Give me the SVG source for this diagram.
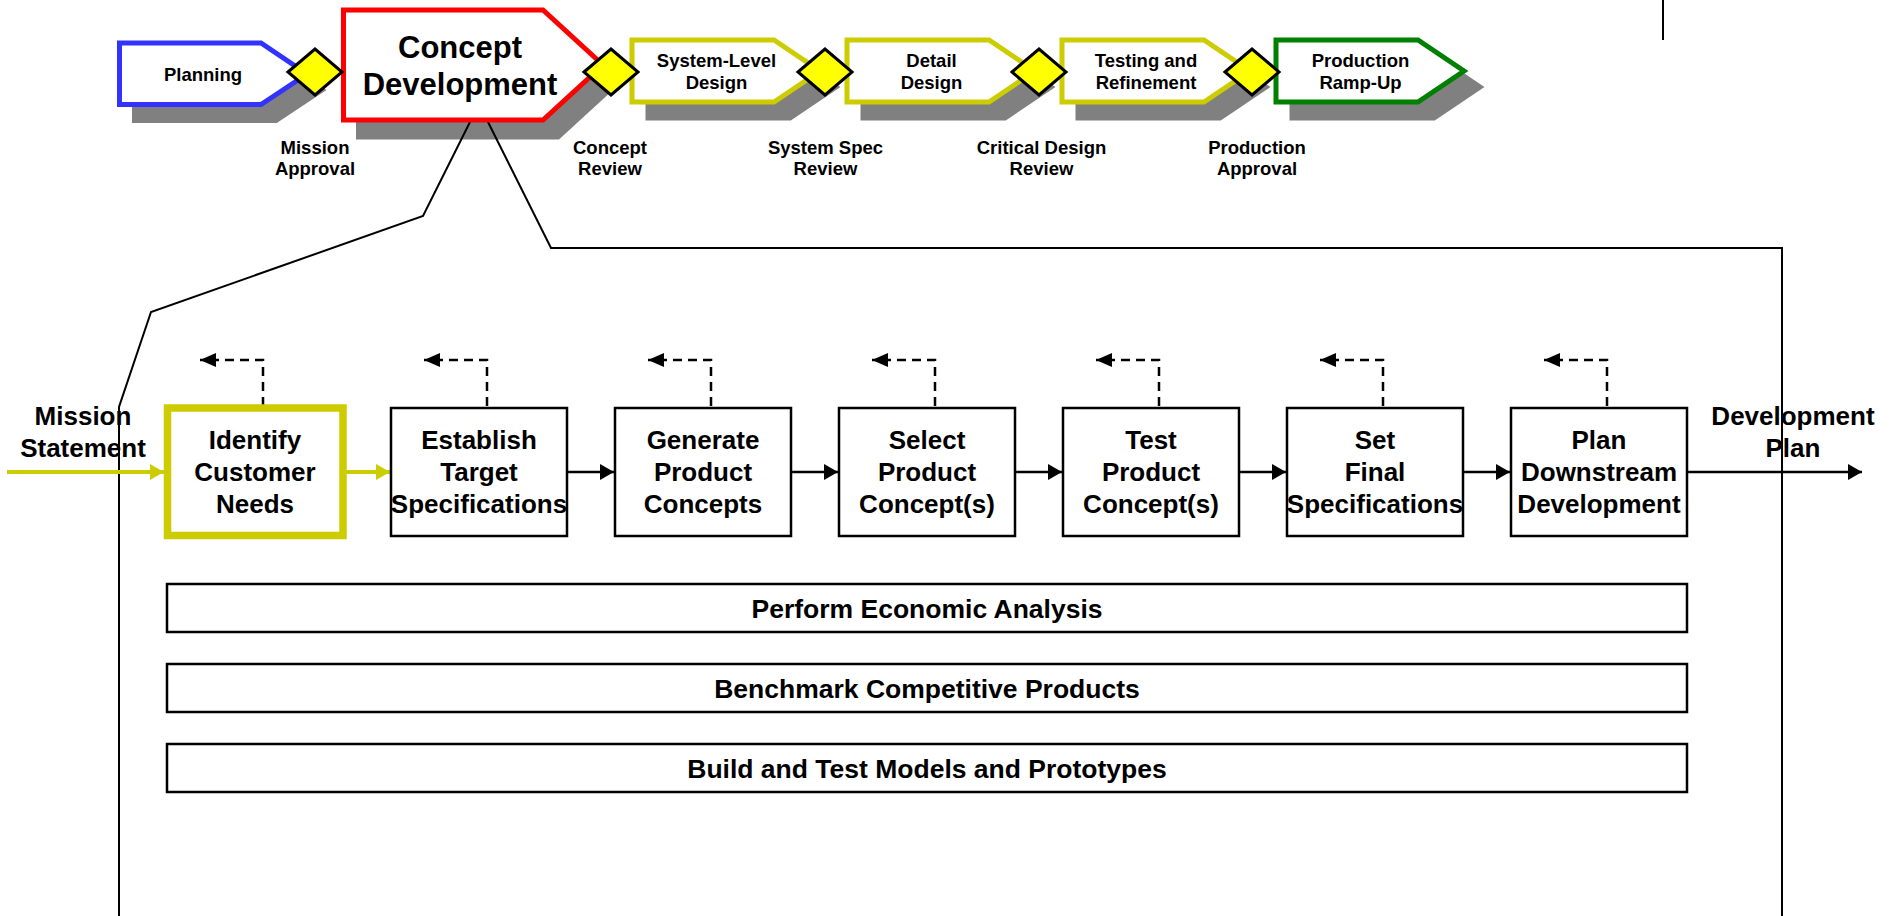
<svg xmlns="http://www.w3.org/2000/svg" width="1895" height="916" viewBox="0 0 1895 916">
<defs>
<style>
text{font-family:"Liberation Sans",Arial,Helvetica,sans-serif;font-weight:bold;fill:#000;text-anchor:middle}
.shadow{fill:#808080;stroke:#808080;stroke-width:5}
.phase{fill:#fff;stroke-width:5;stroke-linejoin:miter}
.gate{fill:#ffff00;stroke:#000;stroke-width:3}
.t18{font-size:18.5px}
.t26{font-size:26px}
.t27{font-size:26.5px}
.box{fill:#fff;stroke:#000;stroke-width:2.5}
.bar{fill:#fff;stroke:#000;stroke-width:2.5}
.line{fill:none;stroke:#000;stroke-width:2}
.flow{fill:none;stroke:#000;stroke-width:2.5}
.yflow{fill:none;stroke:#cccc00;stroke-width:4}
.dash{fill:none;stroke:#000;stroke-width:2.5;stroke-dasharray:9,6}
</style>
<marker id="ah" markerUnits="userSpaceOnUse" markerWidth="16" markerHeight="18" refX="14" refY="8" orient="auto">
<path d="M0,0 L14,8 L0,16 Z" fill="#000"/>
</marker>
<marker id="yah" markerUnits="userSpaceOnUse" markerWidth="16" markerHeight="18" refX="14" refY="8" orient="auto">
<path d="M0,0 L14,8 L0,16 Z" fill="#cccc00"/>
</marker>
<marker id="dah" markerUnits="userSpaceOnUse" markerWidth="17" markerHeight="15" refX="16" refY="7" orient="auto">
<path d="M0,0 L16,7 L0,14 Z" fill="#000"/>
</marker>
</defs>
<rect width="1895" height="916" fill="#fff"/>

<g id="shadows">
<polygon class="shadow" transform="translate(15,16)" points="119.5,43 261,43 307,74 261,104.5 119.5,104.5"/>
<polygon class="shadow" transform="translate(15,17)" points="343.5,10 543,10 603,65 543,120 343.5,120"/>
<polygon class="shadow" transform="translate(16,16)" points="632,40 774,40 820,71 774,102 632,102"/>
<polygon class="shadow" transform="translate(16,16)" points="847,40 989,40 1035,71 989,102 847,102"/>
<polygon class="shadow" transform="translate(16,16)" points="1062,40 1204,40 1250,71 1204,102 1062,102"/>
<polygon class="shadow" transform="translate(16,16)" points="1276,40 1418,40 1464,71 1418,102 1276,102"/>
</g>

<g id="connectors">
<polyline class="line" points="471,120 423,216 151,312 119,407 119,916"/>
<polyline class="line" points="487,120 551,248 1782,248 1782,916"/>
<line class="line" x1="1663" y1="0" x2="1663" y2="40"/>
<line class="yflow" x1="7" y1="472" x2="164" y2="472" marker-end="url(#yah)"/>
<line class="yflow" x1="346" y1="472" x2="390" y2="472" marker-end="url(#yah)"/>
<line class="flow" x1="567" y1="472" x2="614" y2="472" marker-end="url(#ah)"/>
<line class="flow" x1="791" y1="472" x2="838" y2="472" marker-end="url(#ah)"/>
<line class="flow" x1="1015" y1="472" x2="1062" y2="472" marker-end="url(#ah)"/>
<line class="flow" x1="1239" y1="472" x2="1286" y2="472" marker-end="url(#ah)"/>
<line class="flow" x1="1463" y1="472" x2="1510" y2="472" marker-end="url(#ah)"/>
<line class="flow" x1="1688" y1="472" x2="1862" y2="472" marker-end="url(#ah)"/>
<polyline class="dash" points="263,406 263,360 200,360" marker-end="url(#dah)"/>
<polyline class="dash" points="487,406 487,360 424,360" marker-end="url(#dah)"/>
<polyline class="dash" points="711,406 711,360 648,360" marker-end="url(#dah)"/>
<polyline class="dash" points="935,406 935,360 872,360" marker-end="url(#dah)"/>
<polyline class="dash" points="1159,406 1159,360 1096,360" marker-end="url(#dah)"/>
<polyline class="dash" points="1383,406 1383,360 1320,360" marker-end="url(#dah)"/>
<polyline class="dash" points="1607,406 1607,360 1544,360" marker-end="url(#dah)"/>
</g>

<g id="phase-planning">
<polygon class="phase" stroke="#3333ff" points="119.5,43 261,43 307,74 261,104.5 119.5,104.5"/>
<text class="t18" x="203" y="80.5">Planning</text>
</g>
<g id="phase-concept">
<polygon class="phase" stroke="#ff0000" points="343.5,10 543,10 603,65 543,120 343.5,120"/>
<text x="460" y="58" font-size="31px">Concept</text>
<text x="460" y="95" font-size="31px">Development</text>
</g>
<g id="phase-system">
<polygon class="phase" stroke="#cccc00" points="632,40 774,40 820,71 774,102 632,102"/>
<text class="t18" x="716.5" y="66.5">System-Level</text>
<text class="t18" x="716.5" y="88.5">Design</text>
</g>
<g id="phase-detail">
<polygon class="phase" stroke="#cccc00" points="847,40 989,40 1035,71 989,102 847,102"/>
<text class="t18" x="931.5" y="66.5">Detail</text>
<text class="t18" x="931.5" y="88.5">Design</text>
</g>
<g id="phase-testing">
<polygon class="phase" stroke="#cccc00" points="1062,40 1204,40 1250,71 1204,102 1062,102"/>
<text class="t18" x="1146" y="66.5">Testing and</text>
<text class="t18" x="1146" y="88.5">Refinement</text>
</g>
<g id="phase-production">
<polygon class="phase" stroke="#008000" points="1276,40 1418,40 1464,71 1418,102 1276,102"/>
<text class="t18" x="1360.5" y="66.5">Production</text>
<text class="t18" x="1360.5" y="88.5">Ramp-Up</text>
</g>

<g id="gate-mission">
<polygon class="gate" points="288,72 315,49 342,72 315,95"/>
<text class="t18" x="315" y="154">Mission</text>
<text class="t18" x="315" y="175">Approval</text>
</g>
<g id="gate-concept">
<polygon class="gate" points="584,72 611,49 638,72 611,95"/>
<text class="t18" x="610" y="154">Concept</text>
<text class="t18" x="610" y="175">Review</text>
</g>
<g id="gate-systemspec">
<polygon class="gate" points="798,72 825,49 852,72 825,95"/>
<text class="t18" x="825.5" y="154">System Spec</text>
<text class="t18" x="825.5" y="175">Review</text>
</g>
<g id="gate-critical">
<polygon class="gate" points="1012,72 1039,49 1066,72 1039,95"/>
<text class="t18" x="1041.5" y="154">Critical Design</text>
<text class="t18" x="1041.5" y="175">Review</text>
</g>
<g id="gate-production">
<polygon class="gate" points="1225,72 1252,49 1279,72 1252,95"/>
<text class="t18" x="1257" y="154">Production</text>
<text class="t18" x="1257" y="175">Approval</text>
</g>

<g id="label-mission">
<text class="t26" x="83" y="425">Mission</text>
<text class="t26" x="83" y="457">Statement</text>
</g>
<g id="label-devplan">
<text class="t26" x="1793" y="425">Development</text>
<text class="t26" x="1793" y="457">Plan</text>
</g>

<g id="step-identify">
<rect x="167.5" y="408" width="175.5" height="127.5" fill="#fff" stroke="#cccc00" stroke-width="7.5"/>
<text class="t26" x="255" y="449">Identify</text>
<text class="t26" x="255" y="481">Customer</text>
<text class="t26" x="255" y="513">Needs</text>
</g>
<g id="step-establish">
<rect class="box" x="391" y="408" width="176" height="128"/>
<text class="t26" x="479" y="449">Establish</text>
<text class="t26" x="479" y="481">Target</text>
<text class="t26" x="479" y="513">Specifications</text>
</g>
<g id="step-generate">
<rect class="box" x="615" y="408" width="176" height="128"/>
<text class="t26" x="703" y="449">Generate</text>
<text class="t26" x="703" y="481">Product</text>
<text class="t26" x="703" y="513">Concepts</text>
</g>
<g id="step-select">
<rect class="box" x="839" y="408" width="176" height="128"/>
<text class="t26" x="927" y="449">Select</text>
<text class="t26" x="927" y="481">Product</text>
<text class="t26" x="927" y="513">Concept(s)</text>
</g>
<g id="step-test">
<rect class="box" x="1063" y="408" width="176" height="128"/>
<text class="t26" x="1151" y="449">Test</text>
<text class="t26" x="1151" y="481">Product</text>
<text class="t26" x="1151" y="513">Concept(s)</text>
</g>
<g id="step-setfinal">
<rect class="box" x="1287" y="408" width="176" height="128"/>
<text class="t26" x="1375" y="449">Set</text>
<text class="t26" x="1375" y="481">Final</text>
<text class="t26" x="1375" y="513">Specifications</text>
</g>
<g id="step-plan">
<rect class="box" x="1511" y="408" width="176" height="128"/>
<text class="t26" x="1599" y="449">Plan</text>
<text class="t26" x="1599" y="481">Downstream</text>
<text class="t26" x="1599" y="513">Development</text>
</g>

<g id="bar-economic">
<rect class="bar" x="167" y="584" width="1520" height="48"/>
<text class="t27" x="927" y="617.5">Perform Economic Analysis</text>
</g>
<g id="bar-benchmark">
<rect class="bar" x="167" y="664" width="1520" height="48"/>
<text class="t27" x="927" y="697.5">Benchmark Competitive Products</text>
</g>
<g id="bar-build">
<rect class="bar" x="167" y="744" width="1520" height="48"/>
<text class="t27" x="927" y="777.5">Build and Test Models and Prototypes</text>
</g>
</svg>
